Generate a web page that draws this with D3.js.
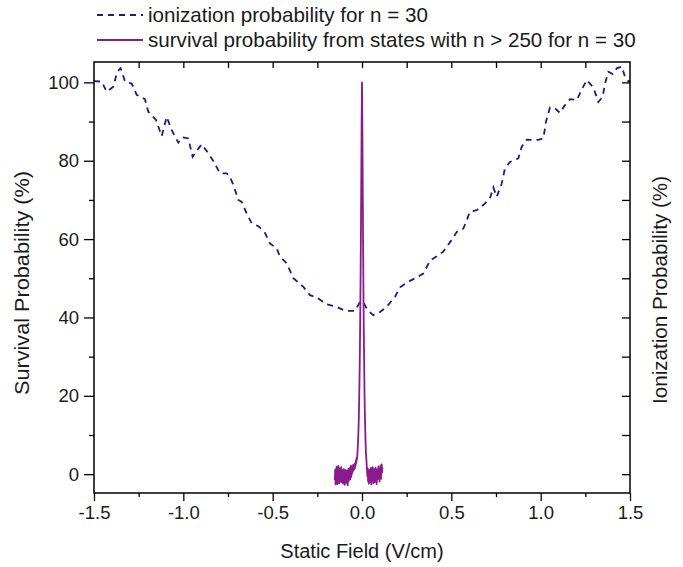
<!DOCTYPE html>
<html>
<head>
<meta charset="utf-8">
<script src="https://cdn.jsdelivr.net/npm/d3@7"></script>
<style>
  html, body { margin: 0; padding: 0; background: #ffffff; }
  svg { display: block; font-family: "Liberation Sans", Arial, sans-serif; }
</style>
</head>
<body>
<svg id="chart" width="683" height="567"></svg>
<script>
// ---- Data ----
const ionField = [-1.500,-1.457,-1.429,-1.392,-1.370,-1.351,-1.326,-1.289,-1.261,-1.215,-1.196,-1.153,-1.121,-1.093,-1.065,-1.028,-1.004,-0.972,-0.948,-0.916,-0.897,-0.860,-0.832,-0.795,-0.757,-0.740,-0.720,-0.692,-0.673,-0.645,-0.617,-0.580,-0.543,-0.515,-0.477,-0.459,-0.421,-0.384,-0.328,-0.291,-0.254,-0.198,-0.142,-0.095,-0.039,-0.011,0.007,0.030,0.063,0.101,0.138,0.185,0.213,0.259,0.297,0.343,0.381,0.418,0.455,0.502,0.530,0.567,0.586,0.604,0.642,0.679,0.716,0.735,0.754,0.782,0.800,0.828,0.875,0.894,0.922,0.959,0.987,1.015,1.030,1.052,1.080,1.108,1.136,1.164,1.202,1.230,1.258,1.295,1.323,1.347,1.360,1.379,1.403,1.426,1.454,1.472,1.491,1.500];
const ionProb  = [100.3,100.2,97.6,98.9,102.7,103.6,100.2,99.7,96.8,95.7,92.5,90.4,86.3,91.2,87.8,84.6,86.0,85.7,81.0,83.1,84.2,81.9,79.9,76.8,76.8,76.0,73.8,70.0,69.5,66.5,64.0,63.3,61.6,58.9,57.6,55.5,53.8,50.0,47.8,45.7,45.1,43.4,42.7,41.7,41.7,44.0,44.0,41.9,40.6,41.4,42.7,45.3,47.7,49.1,50.0,51.2,54.5,55.6,56.8,59.8,61.8,62.7,64.8,67.0,67.4,68.7,70.4,73.2,70.8,74.2,78.0,79.7,80.6,83.6,85.4,85.3,85.3,85.7,90.0,93.6,93.4,92.2,94.2,95.7,95.5,98.2,100.6,98.7,95.0,96.3,99.7,102.7,102.1,103.6,104.0,101.4,100.2,100.5];

const survField = [-0.152,-0.150,-0.148,-0.146,-0.144,-0.142,-0.140,-0.138,-0.136,-0.134,-0.132,-0.130,-0.128,-0.126,-0.124,-0.122,-0.120,-0.118,-0.116,-0.114,-0.112,-0.110,-0.108,-0.106,-0.104,-0.102,-0.100,-0.098,-0.096,-0.094,-0.092,-0.090,-0.088,-0.086,-0.084,-0.082,-0.080,-0.078,-0.076,-0.074,-0.072,-0.070,-0.068,-0.066,-0.064,-0.062,-0.060,-0.058,-0.056,-0.054,-0.052,-0.050,-0.048,-0.046,-0.044,-0.042,-0.040,-0.038,-0.036,-0.034,-0.032,-0.030,-0.028,-0.026,-0.024,-0.022,-0.020,-0.018,-0.016,-0.014,-0.012,-0.010,-0.008,-0.006,-0.004,-0.002,0.000,0.002,0.004,0.006,0.008,0.010,0.012,0.014,0.016,0.018,0.020,0.022,0.024,0.026,0.028,0.030,0.032,0.034,0.036,0.038,0.040,0.042,0.044,0.046,0.048,0.050,0.052,0.054,0.056,0.058,0.060,0.062,0.064,0.066,0.068,0.070,0.072,0.074,0.076,0.078,0.080,0.082,0.084,0.086,0.088,0.090,0.092,0.094,0.096,0.098,0.100,0.102,0.104,0.106,0.108,0.110,0.112,0.114];
const survProb  = [-1.5,1.2,-2.6,0.4,-1.8,1.9,-0.9,-2.5,0.8,-1.2,2.1,-0.5,-2.3,0.3,1.5,-1.9,0.6,-1.1,1.8,-2.0,0.2,-0.8,1.0,-2.4,-0.3,1.3,-1.6,0.5,-2.7,-0.6,1.1,-1.4,0.0,-2.2,0.9,-1.0,-2.8,-0.4,1.4,-1.7,0.7,-0.2,1.6,-1.3,0.4,2.2,-0.7,1.2,0.1,1.9,0.6,2.4,1.0,2.0,1.2,2.6,1.5,2.9,2.2,3.6,2.8,4.2,3.8,5.0,6.5,8.5,11.0,14.0,18.5,24.0,31.0,40.0,50.0,62.0,76.0,90.0,100.0,89.0,74.0,60.0,47.0,37.0,28.5,21.0,15.5,11.5,8.0,5.5,4.0,2.5,1.2,-0.5,1.5,-1.8,0.4,-2.4,-0.6,1.1,-2.0,0.3,-1.2,1.6,-2.6,-0.4,0.9,-1.5,1.8,-0.9,-2.3,0.5,-1.1,1.3,-2.0,-0.2,1.7,-1.6,0.6,-2.5,-0.7,1.2,-1.3,0.2,2.0,-1.0,0.9,-1.9,1.5,-0.3,2.2,-1.2,1.0,2.5,0.4,1.8];

const xMajorTicks = [-1.5,-1.0,-0.5,0.0,0.5,1.0,1.5];
const xTickLabels = ["-1.5","-1.0","-0.5","0.0","0.5","1.0","1.5"];
const yMajorTicks = [0,20,40,60,80,100];
const legendLabels = ["ionization probability for n = 30", "survival probability from states with n > 250 for n = 30"];

// ---- Layout ----
const svg = d3.select("#chart");
const L = 94, R = 630, T = 62, B = 493;
const x = d3.scaleLinear().domain([-1.5, 1.5]).range([L, R]);
const y = d3.scaleLinear().domain([-4.8, 105.2]).range([B, T]);

const ionColor = "#1b1b8c";
const survColor = "#8b1a8e";

svg.append("clipPath").attr("id","clip").append("rect")
  .attr("x", L).attr("y", T).attr("width", R-L).attr("height", B-T);

// ---- Data lines ----
const ionData = ionField.map((f,i)=>[f, ionProb[i]]);
const survData = survField.map((f,i)=>[f, survProb[i]]);
const line = d3.line().x(d=>x(d[0])).y(d=>y(d[1]));

svg.append("path").datum(ionData)
  .attr("clip-path","url(#clip)")
  .attr("d", line).attr("fill","none")
  .attr("stroke", ionColor).attr("stroke-width", 1.8)
  .attr("stroke-dasharray","6,5");

svg.append("path").datum(survData)
  .attr("clip-path","url(#clip)")
  .attr("d", line).attr("fill","none")
  .attr("stroke", survColor).attr("stroke-width", 1.8)
  .attr("stroke-linejoin","round");

// ---- Axes ----
const fontTick = 18.5;
function styleAxis(g){
  g.select(".domain").remove();
  g.selectAll(".tick line").attr("stroke","#000").attr("stroke-width",1.3);
  g.selectAll("text").attr("fill","#1a1a1a").attr("font-size", fontTick)
    .attr("font-family",'"Liberation Sans", Arial, sans-serif');
}

svg.append("g").attr("transform",`translate(0,${B})`)
  .call(d3.axisBottom(x).tickValues(xMajorTicks).tickSize(8).tickPadding(5)
    .tickFormat((d,i)=>xTickLabels[i]))
  .call(styleAxis);
svg.append("g").attr("transform",`translate(0,${B})`)
  .call(d3.axisBottom(x).tickValues([-1.25,-0.75,-0.25,0.25,0.75,1.25]).tickSize(4).tickFormat(""))
  .call(styleAxis);
svg.append("g").attr("transform",`translate(0,${T})`)
  .call(d3.axisBottom(x).tickValues(d3.range(-1.25,1.3,0.25)).tickSize(6).tickFormat(""))
  .call(styleAxis);
svg.append("g").attr("transform",`translate(${L},0)`)
  .call(d3.axisLeft(y).tickValues(yMajorTicks).tickSize(10).tickPadding(5).tickFormat(d3.format("d")))
  .call(styleAxis);
svg.append("g").attr("transform",`translate(${L},0)`)
  .call(d3.axisLeft(y).tickValues([10,30,50,70,90]).tickSize(5).tickFormat(""))
  .call(styleAxis);
svg.append("g").attr("transform",`translate(${R},0)`)
  .call(d3.axisLeft(y).tickValues([0,10,20,30,40,50,60,70,80,90,100]).tickSize(8).tickFormat(""))
  .call(styleAxis);

svg.append("rect").attr("x",L).attr("y",T).attr("width",R-L).attr("height",B-T)
  .attr("fill","none").attr("stroke","#000").attr("stroke-width",1.5);

// ---- Axis titles ----
svg.append("text").attr("x", (L+R)/2).attr("y", 558).attr("text-anchor","middle")
  .attr("font-size", 20).attr("fill","#1a1a1a").text("Static Field (V/cm)");
svg.append("text").attr("transform","translate(29,283) rotate(-90)").attr("text-anchor","middle")
  .attr("font-size", 20).attr("fill","#1a1a1a")
  .attr("textLength", 224).attr("lengthAdjust","spacingAndGlyphs")
  .text("Survival Probability (%)");
svg.append("text").attr("transform","translate(667,290) rotate(-90)").attr("text-anchor","middle")
  .attr("font-size", 20).attr("fill","#1a1a1a")
  .attr("textLength", 228).attr("lengthAdjust","spacingAndGlyphs")
  .text("Ionization Probability (%)");

// ---- Legend ----
const lg = svg.append("g");
lg.append("line").attr("x1",97).attr("x2",143).attr("y1",15).attr("y2",15)
  .attr("stroke", ionColor).attr("stroke-width",1.8).attr("stroke-dasharray","6,5");
lg.append("line").attr("x1",97).attr("x2",143).attr("y1",40).attr("y2",40)
  .attr("stroke", survColor).attr("stroke-width",1.8);
lg.append("text").attr("x",148).attr("y",21.7).attr("font-size",20.6).attr("fill","#1a1a1a").text(legendLabels[0]);
lg.append("text").attr("x",148).attr("y",46.7).attr("font-size",20.6).attr("fill","#1a1a1a").text(legendLabels[1]);
</script>
</body>
</html>
